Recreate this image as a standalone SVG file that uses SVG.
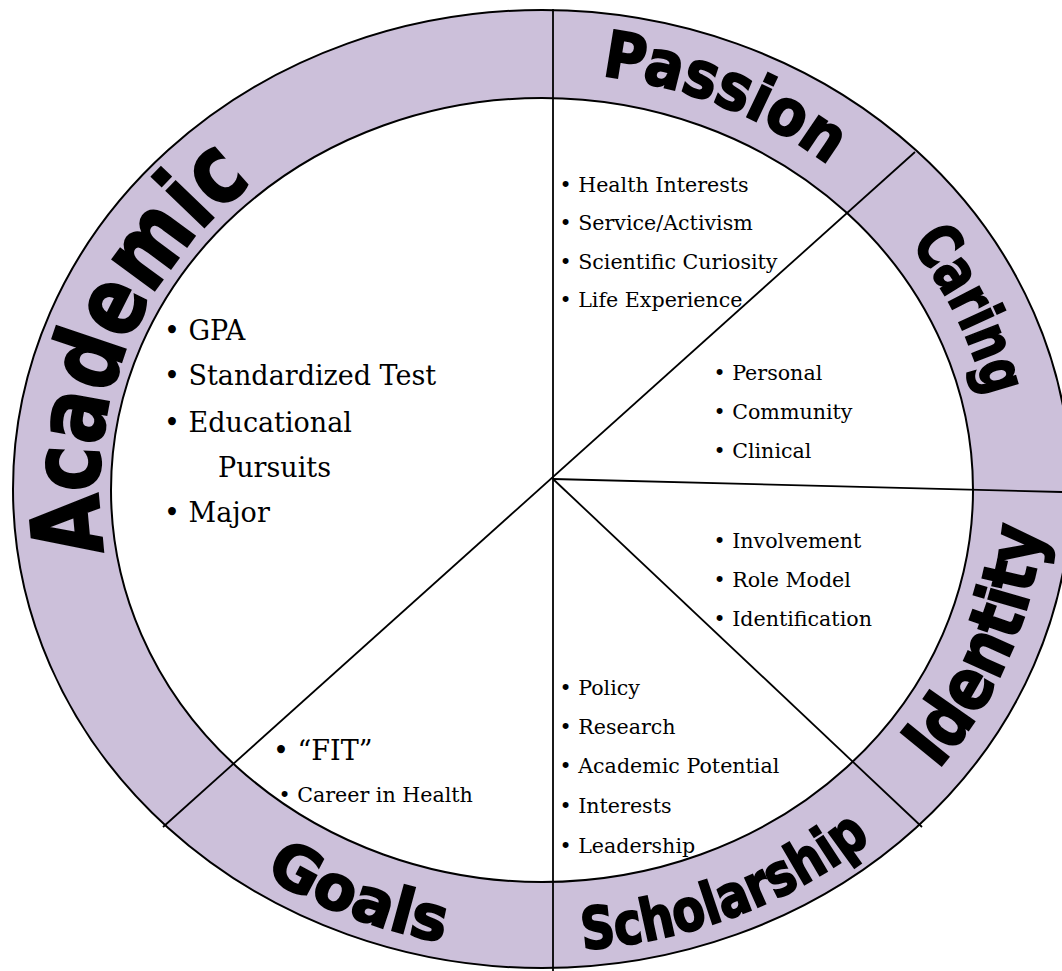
<svg xmlns="http://www.w3.org/2000/svg" xmlns:xlink="http://www.w3.org/1999/xlink" width="1062" height="971" viewBox="0 0 1062 971">
<style>
.ring{fill:#CCC0DA;stroke:#000;stroke-width:2}
.hole{fill:#fff;stroke:#000;stroke-width:2}
.spoke{stroke:#000;stroke-width:1.8;fill:none}
.lbl{font-family:"DejaVu Sans","Liberation Sans",sans-serif;font-weight:bold;fill:#000;stroke:#000;stroke-width:2}
.it{font-family:"DejaVu Serif","Liberation Serif",serif;font-size:20.6px;fill:#000}
.big{font-size:27px}
</style>
<defs>
<path id="pAcademic" d="M 104.5 552.2 A 443 404 0 0 1 287.9 158.0"/>
<path id="pPassion" d="M 601.4 75.6 A 455 417 0 0 1 890.5 221.0"/>
<path id="pCaring" d="M 910.1 243.9 A 455 417 0 0 1 997 489"/>
<path id="pIdentity" d="M 938 770 A 503 458 0 0 0 1027 371"/>
<path id="pScholarship" d="M 582.7 949.5 A 507 462 0 0 0 981.1 720"/>
<path id="pGoals" d="M 264.4 875.6 A 507 462 0 0 0 542 951"/>
</defs>
<g id="wheel">
<ellipse class="ring" cx="542" cy="489" rx="529" ry="479"/>
<ellipse class="hole" cx="542" cy="490" rx="431" ry="392"/>
</g>
<g id="connectors">
<line class="spoke" x1="553" y1="9" x2="553" y2="971"/>
<line class="spoke" x1="915" y1="152" x2="163" y2="827"/>
<line class="spoke" x1="553" y1="479" x2="1062" y2="492"/>
<line class="spoke" x1="553" y1="479" x2="922" y2="827"/>
</g>
<g id="academic">
<text class="lbl" font-size="96"><textPath xlink:href="#pAcademic" href="#pAcademic" textLength="418" lengthAdjust="spacingAndGlyphs">Academic</textPath></text>
<text class="it big" x="164" y="340">• GPA</text>
<text class="it big" x="164" y="385">• Standardized Test</text>
<text class="it big" x="164" y="432">• Educational</text>
<text class="it big" x="218" y="477">Pursuits</text>
<text class="it big" x="164" y="522">• Major</text>
</g>
<g id="passion">
<text class="lbl" font-size="64"><textPath xlink:href="#pPassion" href="#pPassion" textLength="247" lengthAdjust="spacingAndGlyphs">Passion</textPath></text>
<text class="it" x="559.5" y="192">• Health Interests</text>
<text class="it" x="559.5" y="230">• Service/Activism</text>
<text class="it" x="559.5" y="269">• Scientific Curiosity</text>
<text class="it" x="559.5" y="307">• Life Experience</text>
</g>
<g id="caring">
<text class="lbl" font-size="62"><textPath xlink:href="#pCaring" href="#pCaring" textLength="172" lengthAdjust="spacingAndGlyphs">Caring</textPath></text>
<text class="it" x="713.5" y="380">• Personal</text>
<text class="it" x="713.5" y="419">• Community</text>
<text class="it" x="713.5" y="458">• Clinical</text>
</g>
<g id="identity">
<text class="lbl" font-size="72"><textPath xlink:href="#pIdentity" href="#pIdentity" textLength="268" lengthAdjust="spacingAndGlyphs">Identity</textPath></text>
<text class="it" x="713.5" y="548">• Involvement</text>
<text class="it" x="713.5" y="587">• Role Model</text>
<text class="it" x="713.5" y="626">• Identification</text>
</g>
<g id="scholarship">
<text class="lbl" font-size="58"><textPath xlink:href="#pScholarship" href="#pScholarship" textLength="313" lengthAdjust="spacingAndGlyphs">Scholarship</textPath></text>
<text class="it" x="559.5" y="695">• Policy</text>
<text class="it" x="559.5" y="734">• Research</text>
<text class="it" x="559.5" y="773">• Academic Potential</text>
<text class="it" x="559.5" y="813">• Interests</text>
<text class="it" x="559.5" y="853">• Leadership</text>
</g>
<g id="goals">
<text class="lbl" font-size="62"><textPath xlink:href="#pGoals" href="#pGoals" textLength="192" lengthAdjust="spacingAndGlyphs">Goals</textPath></text>
<text class="it big" x="273" y="760">• “FIT”</text>
<text class="it" x="278.5" y="802">• Career in Health</text>
</g>
</svg>
